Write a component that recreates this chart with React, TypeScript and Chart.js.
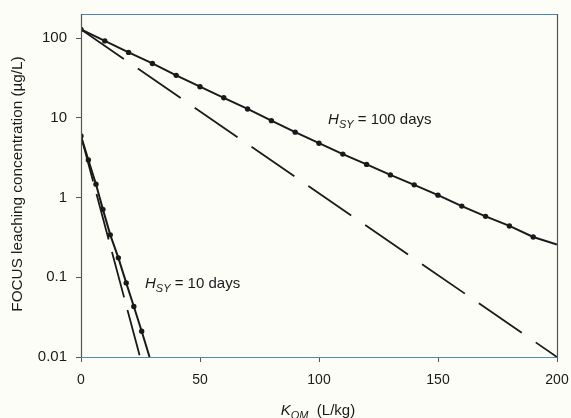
import React, { useEffect, useRef } from "react";
import { Chart, registerables } from "chart.js";

Chart.register(...registerables);

// K_OM values (L/kg) and FOCUS leaching concentrations (µg/L)
const K100 = [0, 10, 20, 30, 40, 50, 60, 70, 80, 90, 100, 110, 120, 130, 140, 150, 160, 170, 180, 190, 200];
const C100 = [128, 92, 66, 48, 34, 24.5, 17.8, 12.9, 9.2, 6.6, 4.8, 3.5, 2.6, 1.92, 1.44, 1.07, 0.78, 0.58, 0.44, 0.32, 0.258];
const K100_DASH = [0, 200];
const C100_DASH = [128, 0.01];

const K10 = [0, 3.1, 6.3, 9.2, 12.3, 15.7, 19, 22.2, 25.5, 28.8];
const C10 = [5.9, 2.95, 1.47, 0.71, 0.34, 0.175, 0.085, 0.043, 0.021, 0.01];
const K10_DASH = [0, 24.8];
const C10_DASH = [5.9, 0.01];

const X_TICKS = [0, 50, 100, 150, 200];
const Y_TICKS = [0.01, 0.1, 1, 10, 100];

const Y_TITLE = "FOCUS leaching concentration (µg/L)";
const LABEL_100 = { x: 103.8, y: 8.4, text: " = 100 days" };
const LABEL_10 = { x: 26.9, y: 0.073, text: " = 10 days" };

const FONT = "'Liberation Sans', Arial, Helvetica, sans-serif";
const INK = "#1a1a1a";

const pts = (xs: number[], ys: number[]) => xs.map((x, i) => ({ x, y: ys[i] }));

const bgPlugin = {
  id: "bg",
  beforeDraw(chart: any) {
    const { ctx, width, height } = chart;
    ctx.save();
    ctx.fillStyle = "#fdfdf8";
    ctx.fillRect(0, 0, width, height);
    ctx.restore();
  },
};

function drawHsy(ctx: CanvasRenderingContext2D, x: number, y: number, rest: string) {
  ctx.fillStyle = INK;
  ctx.textBaseline = "alphabetic";
  ctx.textAlign = "left";
  ctx.font = `italic 15px ${FONT}`;
  ctx.fillText("H", x, y);
  let cx = x + ctx.measureText("H").width;
  ctx.font = `italic 11px ${FONT}`;
  ctx.fillText("SY", cx, y + 4);
  cx += ctx.measureText("SY").width;
  ctx.font = `15px ${FONT}`;
  ctx.fillText(rest, cx, y);
}

const decorPlugin = {
  id: "decor",
  afterDraw(chart: any) {
    const { ctx, chartArea: a, scales } = chart;
    ctx.save();
    // frame
    ctx.lineWidth = 1.2;
    ctx.strokeStyle = "#4a82c4";
    ctx.beginPath();
    ctx.moveTo(a.left, a.top + 0.5);
    ctx.lineTo(a.right, a.top + 0.5);
    ctx.stroke();
    ctx.strokeStyle = "#4d8ea6";
    ctx.beginPath();
    ctx.moveTo(a.left, a.bottom + 0.5);
    ctx.lineTo(a.right, a.bottom + 0.5);
    ctx.stroke();
    ctx.strokeStyle = "#555";
    ctx.beginPath();
    ctx.moveTo(a.left + 0.5, a.top);
    ctx.lineTo(a.left + 0.5, a.bottom);
    ctx.moveTo(a.right + 0.5, a.top);
    ctx.lineTo(a.right + 0.5, a.bottom);
    ctx.stroke();

    // series labels
    drawHsy(ctx, scales.x.getPixelForValue(LABEL_100.x), scales.y.getPixelForValue(LABEL_100.y), LABEL_100.text);
    drawHsy(ctx, scales.x.getPixelForValue(LABEL_10.x), scales.y.getPixelForValue(LABEL_10.y), LABEL_10.text);

    // y title
    ctx.save();
    ctx.translate(17.5, 184);
    ctx.rotate(-Math.PI / 2);
    ctx.font = `15.3px ${FONT}`;
    ctx.fillStyle = INK;
    ctx.textAlign = "center";
    ctx.textBaseline = "middle";
    ctx.fillText(Y_TITLE, 0, 0);
    ctx.restore();

    // x title  K_OM (L/kg)
    const parts: [string, string, number][] = [
      ["K", `italic 15px ${FONT}`, 0],
      ["OM", `italic 11px ${FONT}`, 4],
      ["  (L/kg)", `15px ${FONT}`, 0],
    ];
    let total = 0;
    for (const [t, f] of parts) {
      ctx.font = f;
      total += ctx.measureText(t).width;
    }
    let x = (a.left + a.right) / 2 - total / 2 - 1;
    const baseY = 415;
    ctx.fillStyle = INK;
    ctx.textAlign = "left";
    ctx.textBaseline = "alphabetic";
    for (const [t, f, dy] of parts) {
      ctx.font = f;
      ctx.fillText(t, x, baseY + dy);
      x += ctx.measureText(t).width;
    }
    ctx.restore();
  },
};

export default function App() {
  const ref = useRef<HTMLCanvasElement | null>(null);

  useEffect(() => {
    document.body.style.margin = "0";
    const canvas = ref.current!;
    const lineBase = {
      showLine: true,
      pointRadius: 0,
      borderColor: INK,
      backgroundColor: INK,
      fill: false,
      tension: 0,
    };
    const chart = new Chart(canvas, {
      type: "scatter",
      data: {
        datasets: [
          { ...lineBase, label: "100 d model", data: pts(K100, C100), borderWidth: 2 },
          {
            ...lineBase,
            label: "100 d linear",
            data: pts(K100_DASH, C100_DASH),
            borderWidth: 1.8,
            borderDash: [52, 17],
          },
          {
            label: "100 d points",
            data: pts(K100.slice(0, -1), C100.slice(0, -1)),
            showLine: false,
            pointRadius: 2.7,
            pointBackgroundColor: INK,
            pointBorderColor: INK,
            pointBorderWidth: 0,
          },
          { ...lineBase, label: "10 d model", data: pts(K10, C10), borderWidth: 2 },
          {
            ...lineBase,
            label: "10 d linear",
            data: pts(K10_DASH, C10_DASH),
            borderWidth: 1.8,
            borderDash: [47, 13],
          },
          {
            label: "10 d points",
            data: pts(K10.slice(0, -1), C10.slice(0, -1)),
            showLine: false,
            pointRadius: 2.7,
            pointBackgroundColor: INK,
            pointBorderColor: INK,
            pointBorderWidth: 0,
          },
        ],
      },
      options: {
        animation: false,
        responsive: false,
        devicePixelRatio: 1,
        layout: { padding: { top: 14, right: 14, left: 0, bottom: 0 } },
        plugins: {
          legend: { display: false },
          tooltip: { enabled: false },
        },
        scales: {
          x: {
            type: "linear",
            min: 0,
            max: 200,
            afterFit(scale: any) {
              scale.height = 61;
              scale.paddingLeft = 0;
              scale.paddingRight = 0;
            },
            afterBuildTicks(scale: any) {
              scale.ticks = X_TICKS.map((v) => ({ value: v }));
            },
            border: { display: false },
            grid: { drawOnChartArea: false, drawTicks: true, tickLength: 5, color: "#555" },
            ticks: {
              padding: 10,
              color: INK,
              font: { family: FONT, size: 14 },
              maxRotation: 0,
              callback: (v: any) => String(v),
            },
          },
          y: {
            type: "logarithmic",
            min: 0.01,
            max: 200,
            afterFit(scale: any) {
              scale.width = 81;
              scale.paddingTop = 0;
              scale.paddingBottom = 0;
            },
            afterBuildTicks(scale: any) {
              scale.ticks = Y_TICKS.map((v) => ({ value: v }));
            },
            border: { display: false },
            grid: { drawOnChartArea: false, drawTicks: true, tickLength: 5, color: "#555" },
            ticks: {
              padding: 9,
              color: INK,
              font: { family: FONT, size: 15 },
              autoSkip: false,
              callback: (v: any) => String(v),
            },
          },
        },
      },
      plugins: [bgPlugin, decorPlugin],
    } as any);
    return () => chart.destroy();
  }, []);

  return <canvas ref={ref} width={571} height={418} style={{ display: "block" }} />;
}
